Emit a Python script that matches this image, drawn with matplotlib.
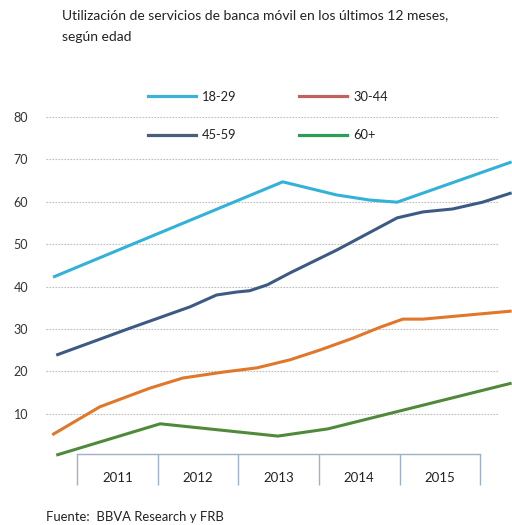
import matplotlib
matplotlib.use("Agg")
import matplotlib.pyplot as plt
from matplotlib.lines import Line2D

plt.rcParams['font.family'] = ['Lato', 'DejaVu Sans']

# Age groups and their series (x in fractional years, y in %)
groups = ["18-29", "30-44", "45-59", "60+"]

x_18_29 = [2010.20, 2013.05, 2013.72, 2014.13, 2014.47, 2015.89]
y_18_29 = [42.2, 64.7, 61.6, 60.4, 59.9, 69.4]

x_30_44 = [2010.19, 2010.78, 2011.40, 2011.81, 2012.31, 2012.73, 2013.14,
           2013.51, 2013.92, 2014.26, 2014.54, 2014.79, 2015.89]
y_30_44 = [5.0, 11.6, 16.0, 18.4, 19.8, 20.8, 22.7,
           25.0, 27.8, 30.4, 32.3, 32.3, 34.2]

x_45_59 = [2010.24, 2011.16, 2011.90, 2012.23, 2012.48, 2012.64, 2012.86,
           2013.14, 2013.72, 2014.47, 2014.79, 2015.16, 2015.53, 2015.89]
y_45_59 = [23.8, 30.2, 35.2, 38.0, 38.7, 39.0, 40.4,
           43.2, 48.6, 56.2, 57.6, 58.3, 59.9, 62.1]

x_60 = [2010.24, 2011.53, 2012.99, 2013.61, 2015.89]
y_60 = [0.2, 7.6, 4.7, 6.4, 17.2]

years = [2011, 2012, 2013, 2014, 2015]
y_ticks = [10, 20, 30, 40, 50, 60, 70, 80]

line_colors = ["#33b1d8", "#e0772a", "#3d5a85", "#4f8a3b"]
legend_colors = ["#3bb3d8", "#c0625e", "#46607c", "#2f9d57"]

W, H = 512, 525
fig = plt.figure(figsize=(W / 100, H / 100), dpi=100)
ax = fig.add_axes([46 / W, 1 - 456 / H, (498 - 46) / W, (456 - 117) / H])

series = [(x_18_29, y_18_29), (x_30_44, y_30_44), (x_45_59, y_45_59), (x_60, y_60)]
for (xs, ys), c in zip(series, line_colors):
    ax.plot(xs, ys, color=c, lw=2.2, solid_capstyle='butt',
            solid_joinstyle='round', clip_on=False, zorder=3)

ax.set_xlim(2010.113, 2015.721)
ax.set_ylim(0, 80)

# horizontal dotted grid
ax.set_yticks(y_ticks)
ax.yaxis.grid(True, color="#bdbdbd", lw=0.8, ls=(0, (1.5, 1.2)))
ax.set_axisbelow(True)
ax.tick_params(axis='y', length=0, pad=18, labelsize=9, labelcolor="#333333")
for lab in ax.get_yticklabels():
    lab.set_horizontalalignment('center')

# category bracket axis along the bottom
for s in ['top', 'right', 'left']:
    ax.spines[s].set_visible(False)
ax.spines['bottom'].set_position(('data', 0.5))
ax.spines['bottom'].set_bounds(2010.5, 2015.5)
ax.spines['bottom'].set_color("#9db2c6")
ax.spines['bottom'].set_linewidth(1.0)
ax.set_xticks([y - 0.5 for y in years] + [years[-1] + 0.5])
ax.set_xticklabels([])
ax.tick_params(axis='x', which='major', direction='out', length=22.5,
               width=1.0, color="#9db2c6")
ax.set_xticks(years, minor=True)
ax.set_xticklabels([str(y) for y in years], minor=True)
ax.tick_params(axis='x', which='minor', length=0, pad=13, labelsize=9.5,
               labelcolor="#222222")

# legend in two columns
handles = [Line2D([], [], color=c, lw=2.3) for c in legend_colors]
order = [0, 2, 1, 3]
fig.legend([handles[i] for i in order], [groups[i] for i in order],
           ncol=2, loc='upper left', bbox_to_anchor=(148 / W, 1 - 91 / H),
           frameon=False, fontsize=9.3, handlelength=3.7, handletextpad=0.45,
           columnspacing=4.9, labelspacing=2.05, borderpad=0, borderaxespad=0,
           labelcolor="#222222")

fig.text(62 / W, 1 - 15 / H,
         "Utilización de servicios de banca móvil en los últimos 12 meses,",
         fontsize=10, va='center', ha='left', color="#222222")
fig.text(62 / W, 1 - 37 / H, "según edad",
         fontsize=10, va='center', ha='left', color="#222222")
fig.text(46 / W, 1 - 517 / H, "Fuente:  BBVA Research y FRB",
         fontsize=9.4, va='center', ha='left', color="#222222")

fig.savefig("out.png", dpi=100)
